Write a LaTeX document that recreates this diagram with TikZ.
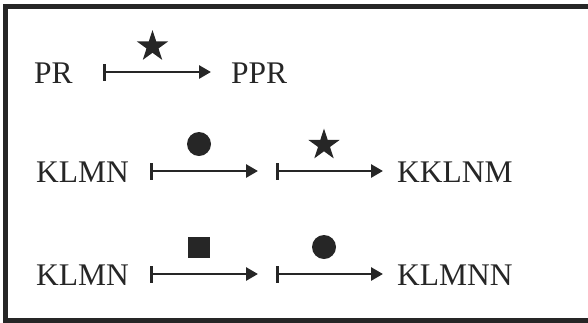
\documentclass[tikz,border=0pt]{standalone}
\usepackage{fontspec}
\setmainfont{Liberation Serif}
\usetikzlibrary{arrows.meta, shapes.geometric}
\definecolor{ink}{HTML}{262626}
\begin{document}
\begin{tikzpicture}[x=1pt, y=-1pt,
    term/.style={anchor=base west, inner sep=0pt, text=ink, font=\fontsize{31.5}{36}\selectfont},
    mapsto/.style={draw=ink, line width=2.8pt, {Bar[width=17pt]}-{Triangle[length=12pt, width=13pt]}},
    starmark/.style={star, star points=5, star point ratio=2.618, fill=ink, inner sep=0pt, minimum size=33pt},
    dotmark/.style={circle, fill=ink, inner sep=0pt, minimum size=24pt},
    boxmark/.style={rectangle, fill=ink, inner sep=0pt, minimum size=21.5pt}
  ]
  \useasboundingbox (0,0) rectangle (588,322);
  \clip (0,0) rectangle (588,322);

  % Frame
  \draw[ink, line width=5pt] (5.5,6.5) rectangle (600,320);

  % Row one
  \node[term] (pr) at (34,83) {PR};
  \node[term] (ppr) at (231,83) {PPR};
  \coordinate (a1s) at (103,72);
  \coordinate (a1e) at (211,72);
  \draw[mapsto] (a1s) -- (a1e);
  \node[starmark] (s1) at (152.5,46.5) {};

  % Row two
  \node[term] (klmn1) at (36,182) {KLMN};
  \node[term] (kklnm) at (397,182) {KKLNM};
  \coordinate (a2s) at (150,171);
  \coordinate (a2e) at (258,171);
  \coordinate (a3s) at (276,171);
  \coordinate (a3e) at (383,171);
  \draw[mapsto] (a2s) -- (a2e);
  \draw[mapsto] (a3s) -- (a3e);
  \node[dotmark] (d1) at (199,144) {};
  \node[starmark] (s2) at (324,145) {};

  % Row three
  \node[term] (klmn2) at (36,285) {KLMN};
  \node[term] (klmnn) at (397,285) {KLMNN};
  \coordinate (a4s) at (150,274);
  \coordinate (a4e) at (258,274);
  \coordinate (a5s) at (276,274);
  \coordinate (a5e) at (383,274);
  \draw[mapsto] (a4s) -- (a4e);
  \draw[mapsto] (a5s) -- (a5e);
  \node[boxmark] (b1) at (199,247.5) {};
  \node[dotmark] (d2) at (324,247) {};

\end{tikzpicture}
\end{document}
